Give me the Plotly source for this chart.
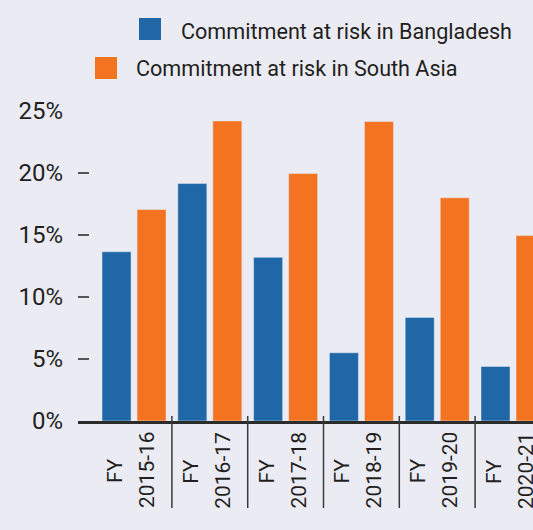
import plotly.graph_objects as go

categories = ["FY 2015-16", "FY 2016-17", "FY 2017-18", "FY 2018-19", "FY 2019-20", "FY 2020-21"]
label_line1 = ["FY", "FY", "FY", "FY", "FY", "FY"]
label_line2 = ["2015-16", "2016-17", "2017-18", "2018-19", "2019-20", "2020-21"]
bangladesh = [13.65, 19.15, 13.2, 5.5, 8.35, 4.4]
south_asia = [17.05, 24.2, 19.95, 24.15, 18.0, 14.95]
series_names = ["Commitment at risk in Bangladesh", "Commitment at risk in South Asia"]
y_ticks = [0, 5, 10, 15, 20, 25]
y_tick_text = ["0%", "5%", "10%", "15%", "20%", "25%"]

BLUE = "#1F67A6"
ORANGE = "#F37321"
BG = "#EBEBF4"
TXT = "#231F20"
FONT = "Roboto, Liberation Sans, sans-serif"

W, H = 533, 530
L, T, R, B = 78, 111, 0, 109
PW, PH = W - L - R, H - T - B


def px(x):
    return (x - L) / PW


def py(y):
    return (H - B - y) / PH


fig = go.Figure()
fig.add_bar(x=categories, y=bangladesh, name=series_names[0], marker_color=BLUE,
            width=0.383, offset=-0.422, showlegend=False)
fig.add_bar(x=categories, y=south_asia, name=series_names[1], marker_color=ORANGE,
            width=0.383, offset=0.04, showlegend=False)

shapes = []
for i in range(len(categories) - 1):
    shapes.append(dict(type="line", xref="x", yref="paper", x0=i + 0.5, x1=i + 0.5,
                       y0=py(416), y1=py(508), line=dict(color="#3a3a3a", width=1.5)))
shapes.append(dict(type="rect", xref="paper", yref="paper", x0=px(139), x1=px(161),
                   y0=py(40), y1=py(18), fillcolor=BLUE, line=dict(width=0)))
shapes.append(dict(type="rect", xref="paper", yref="paper", x0=px(95), x1=px(117),
                   y0=py(79), y1=py(57), fillcolor=ORANGE, line=dict(width=0)))

annotations = []
annotations.append(dict(text=series_names[0], xref="paper", yref="paper", x=px(179), y=py(31),
                        xanchor="left", yanchor="middle", showarrow=False,
                        font=dict(family=FONT, size=21.6, color=TXT)))
annotations.append(dict(text=series_names[1], xref="paper", yref="paper", x=px(134), y=py(68),
                        xanchor="left", yanchor="middle", showarrow=False,
                        font=dict(family=FONT, size=21.6, color=TXT)))
for c, t1, t2 in zip(categories, label_line1, label_line2):
    annotations.append(dict(text=t1, xref="x", yref="paper", x=c, y=py(471), xshift=-19,
                            xanchor="center", yanchor="middle", textangle=-90, showarrow=False,
                            font=dict(family=FONT, size=21, color=TXT)))
    annotations.append(dict(text=t2, xref="x", yref="paper", x=c, y=py(470), xshift=13,
                            xanchor="center", yanchor="middle", textangle=-90, showarrow=False,
                            font=dict(family=FONT, size=21, color=TXT)))

fig.update_layout(
    width=W, height=H,
    margin=dict(l=L, r=R, t=T, b=B, pad=0),
    paper_bgcolor=BG, plot_bgcolor=BG,
    barmode="overlay",
    showlegend=False,
    shapes=shapes,
    annotations=annotations,
    font=dict(family=FONT, color=TXT, size=21),
)
fig.update_xaxes(range=[-0.739, 5.264], showticklabels=False, ticks="",
                 showgrid=False, zeroline=False, showline=True, linewidth=3, linecolor="#2b2b2b")
fig.update_yaxes(range=[0, 25], tickvals=y_ticks, ticktext=y_tick_text, ticks="inside",
                 ticklen=11, tickwidth=1.5, tickcolor="#555555", showgrid=False, zeroline=False,
                 showline=False, ticklabelstandoff=14,
                 tickfont=dict(family=FONT, size=24, color=TXT))

fig.write_html("out.html", config={"displayModeBar": False},
               post_script="document.body.style.margin='0';document.body.style.background='#EBEBF4';")
